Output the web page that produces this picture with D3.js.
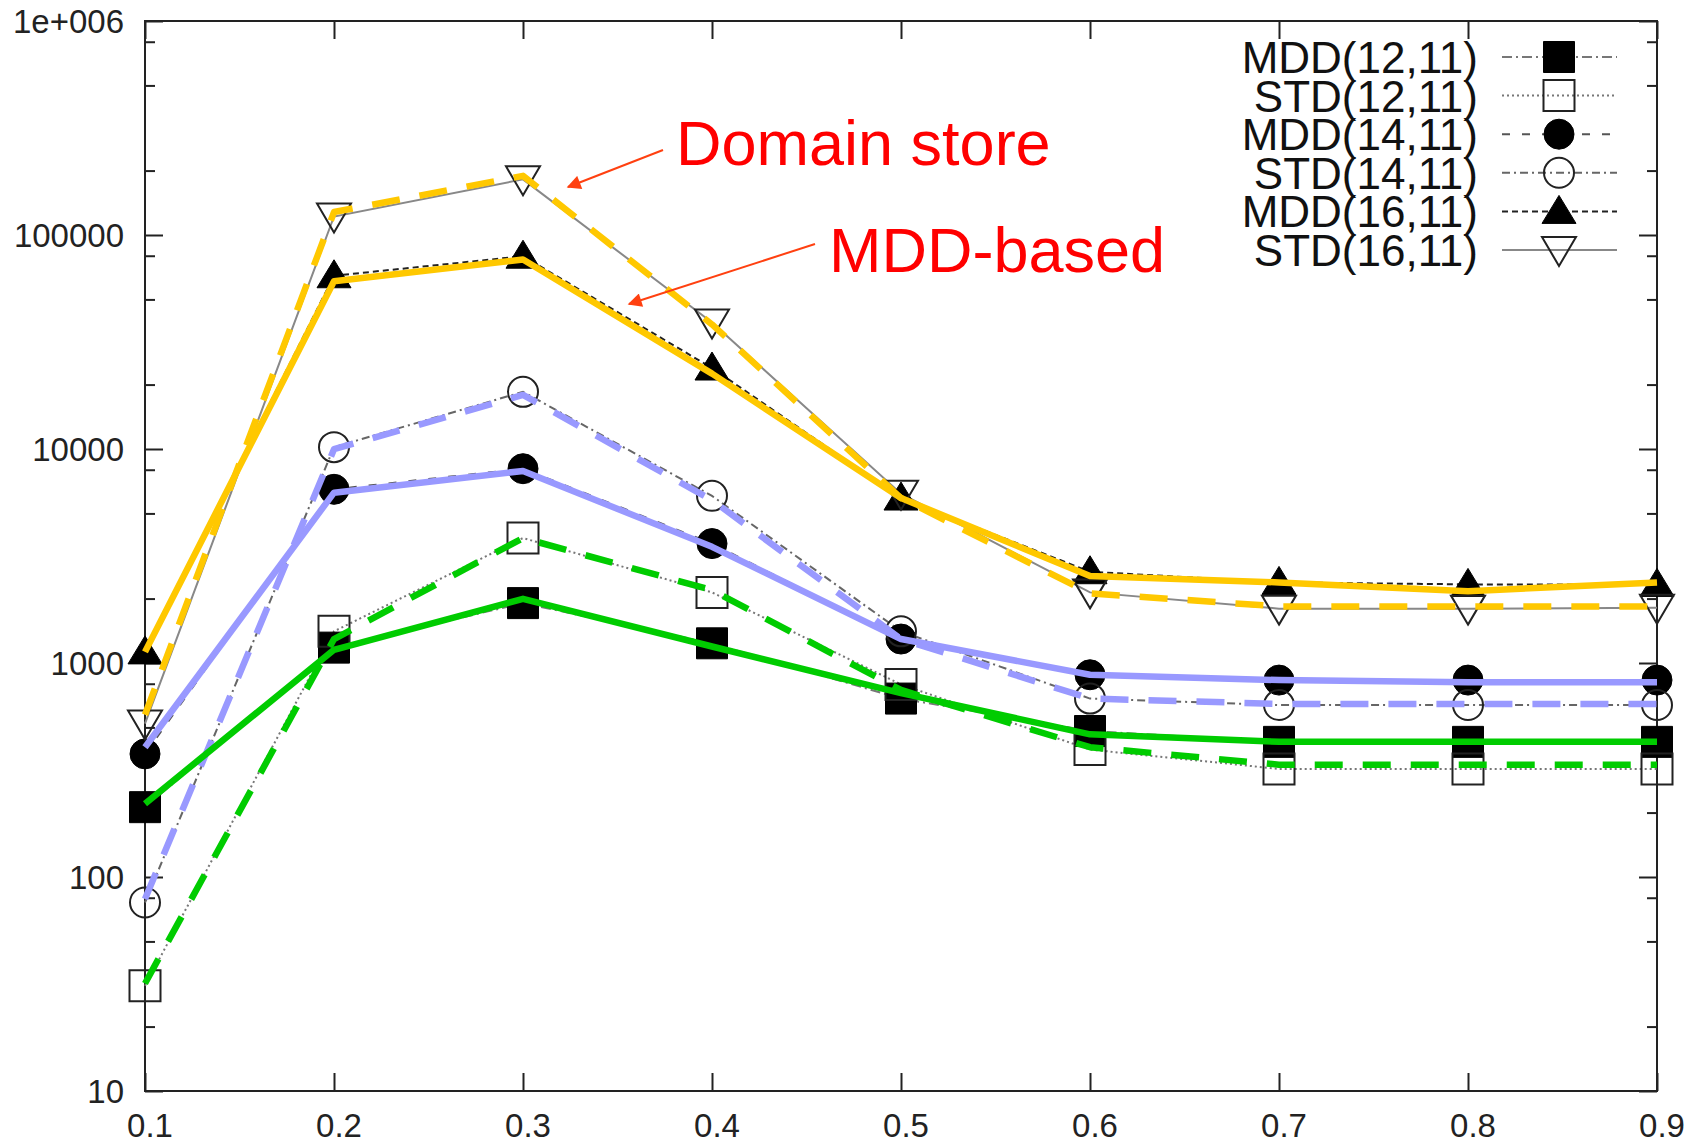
<!DOCTYPE html>
<html>
<head>
<meta charset="utf-8">
<script src="https://cdn.jsdelivr.net/npm/d3@7"></script>
<style>
  body { margin: 0; background: #fff; }
  svg { display: block; font-family: "Liberation Sans", Arial, sans-serif; }
</style>
</head>
<body>
<div id="graph"></div>
<script>
let width = 1698;
let height = 1143;

// x categories
let thresholds = [0.1, 0.2, 0.3, 0.4, 0.5, 0.6, 0.7, 0.8, 0.9];
let xTickLabels = ['0.1', '0.2', '0.3', '0.4', '0.5', '0.6', '0.7', '0.8', '0.9'];
let yTickValues = [10, 100, 1000, 10000, 100000, 1000000];
let yTickLabels = ['10', '100', '1000', '10000', '100000', '1e+006'];

// series with markers
let mdd12 = [212, 1180, 1905, 1236, 682, 481, 428, 428, 428];
let std12 = [31, 1406, 3837, 2138, 794, 394, 320, 320, 320];
let mdd14 = [376, 6480, 8090, 3614, 1294, 881, 832, 832, 832];
let std14 = [76, 10200, 18500, 6040, 1406, 682, 636, 636, 636];
let mdd16 = [1127, 64500, 79600, 23900, 5900, 2670, 2380, 2330, 2330];
let std16 = [521, 122000, 182000, 39000, 6180, 2138, 1795, 1795, 1810];

// hand drawn colour highlight lines
let hiMdd16 = [1127, 60800, 76800, 22500, 5900, 2550, 2380, 2165, 2380];
let hiStd16 = [573, 128000, 189000, 38200, 5900, 2115, 1838, 1838, 1838];
let hiMdd14 = [404, 6250, 7900, 3490, 1294, 881, 832, 812, 812];
let hiStd14 = [79, 9980, 17900, 5770, 1294, 682, 644, 644, 644];
let hiMdd12 = [220, 1153, 1995, 1194, 723, 464, 428, 428, 428];
let hiStd12 = [31.8, 1294, 3837, 2190, 748, 404, 335, 335, 335];

let seriesNames = ['MDD(12,11)', 'STD(12,11)', 'MDD(14,11)', 'STD(14,11)', 'MDD(16,11)', 'STD(16,11)'];

let plotLeft = 145, plotRight = 1657, plotTop = 21, plotBottom = 1091;

let x = d3.scaleLinear().domain([0.1, 0.9]).range([plotLeft, plotRight]);
let y = d3.scaleLog().domain([10, 1e6]).range([plotBottom, plotTop]);

let svg = d3.select('#graph')
    .append('svg')
        .attr('width', width)
        .attr('height', height);

// minor ticks at 2, 5, 8 within each decade
let minorTicks = [];
for (let d = 10; d < 1e6; d *= 10) {
    [2, 5, 8].forEach(m => minorTicks.push(d * m));
}

let axisColor = '#222';

// left and right y ticks
svg.append('g')
    .attr('transform', 'translate(' + plotLeft + ',0)')
    .call(d3.axisRight(y).tickValues(yTickValues).tickSize(18).tickFormat(''))
    .call(g => g.select('.domain').remove());
svg.append('g')
    .attr('transform', 'translate(' + plotLeft + ',0)')
    .call(d3.axisRight(y).tickValues(minorTicks).tickSize(10).tickFormat(''))
    .call(g => g.select('.domain').remove());
svg.append('g')
    .attr('transform', 'translate(' + plotRight + ',0)')
    .call(d3.axisLeft(y).tickValues(yTickValues).tickSize(18).tickFormat(''))
    .call(g => g.select('.domain').remove());
svg.append('g')
    .attr('transform', 'translate(' + plotRight + ',0)')
    .call(d3.axisLeft(y).tickValues(minorTicks).tickSize(10).tickFormat(''))
    .call(g => g.select('.domain').remove());

// bottom and top x ticks
svg.append('g')
    .attr('transform', 'translate(0,' + plotBottom + ')')
    .call(d3.axisTop(x).tickValues(thresholds).tickSize(18).tickFormat(''))
    .call(g => g.select('.domain').remove());
svg.append('g')
    .attr('transform', 'translate(0,' + plotTop + ')')
    .call(d3.axisBottom(x).tickValues(thresholds).tickSize(18).tickFormat(''))
    .call(g => g.select('.domain').remove());

svg.selectAll('.tick line').attr('stroke', axisColor).attr('stroke-width', 2);

// frame
svg.append('rect')
    .attr('x', plotLeft).attr('y', plotTop)
    .attr('width', plotRight - plotLeft).attr('height', plotBottom - plotTop)
    .attr('fill', 'none').attr('stroke', axisColor).attr('stroke-width', 2);

// tick labels
svg.append('g').selectAll('text')
    .data(yTickValues)
    .enter().append('text')
        .attr('x', 124)
        .attr('y', d => y(d))
        .attr('dy', '0.36em')
        .attr('text-anchor', 'end')
        .attr('font-size', 33)
        .attr('fill', '#222')
        .text((d, i) => yTickLabels[i]);

svg.append('g').selectAll('text')
    .data(thresholds)
    .enter().append('text')
        .attr('x', d => x(d) + 5)
        .attr('y', 1137)
        .attr('text-anchor', 'middle')
        .attr('font-size', 33)
        .attr('fill', '#222')
        .text((d, i) => xTickLabels[i]);

// black series
let styles = [
    { data: mdd12, color: '#777', dash: '10,4,2,4', marker: 'square', filled: true },
    { data: std12, color: '#777', dash: '2,3', marker: 'square', filled: false },
    { data: mdd14, color: '#555', dash: '8,12', marker: 'circle', filled: true },
    { data: std14, color: '#666', dash: '8,4,2,4', marker: 'circle', filled: false },
    { data: mdd16, color: '#222', dash: '6,4', marker: 'triUp', filled: true },
    { data: std16, color: '#888', dash: null, marker: 'triDown', filled: false }
];

let line = d3.line()
    .x((d, i) => x(thresholds[i]))
    .y(d => y(d));

function markerPath(type) {
    if (type === 'square') return d3.symbol().type(d3.symbolSquare).size(31 * 31)();
    if (type === 'circle') return d3.symbol().type(d3.symbolCircle).size(Math.PI * 15 * 15)();
    if (type === 'triUp') return 'M0,-16L17,12L-17,12Z';
    return 'M0,16L17,-13L-17,-13Z';
}

function drawMarker(g, s, cx, cy) {
    g.append('path')
        .attr('d', markerPath(s.marker))
        .attr('transform', 'translate(' + cx + ',' + cy + ')')
        .attr('fill', s.filled ? '#000' : 'none')
        .attr('stroke', s.filled ? '#000' : '#222')
        .attr('stroke-width', s.filled ? 1 : 2);
}

styles.forEach(s => {
    svg.append('path')
        .datum(s.data)
        .attr('d', line)
        .attr('fill', 'none')
        .attr('stroke', s.color)
        .attr('stroke-width', 2)
        .attr('stroke-dasharray', s.dash);
});

styles.forEach(s => {
    let g = svg.append('g');
    s.data.forEach((d, i) => drawMarker(g, s, x(thresholds[i]), y(d)));
});

// colour highlight lines
let highlights = [
    { data: hiMdd16, color: '#ffc800', dash: null },
    { data: hiStd16, color: '#ffc800', dash: '28,20' },
    { data: hiMdd14, color: '#9999ff', dash: null },
    { data: hiStd14, color: '#9999ff', dash: '28,20' },
    { data: hiMdd12, color: '#00cc00', dash: null },
    { data: hiStd12, color: '#00cc00', dash: '28,20' }
];

highlights.forEach(h => {
    svg.append('path')
        .datum(h.data)
        .attr('d', line)
        .attr('fill', 'none')
        .attr('stroke', h.color)
        .attr('stroke-width', 6.5)
        .attr('stroke-linejoin', 'round')
        .attr('stroke-dasharray', h.dash);
});

// legend
let legend = svg.append('g');
seriesNames.forEach((name, i) => {
    let cy = 57 + i * 38.6;
    let s = styles[i];
    legend.append('text')
        .attr('x', 1478)
        .attr('y', cy + 16)
        .attr('text-anchor', 'end')
        .attr('font-size', 44)
        .attr('fill', '#111')
        .text(name);
    legend.append('line')
        .attr('x1', 1502).attr('x2', 1617)
        .attr('y1', cy).attr('y2', cy)
        .attr('stroke', s.color)
        .attr('stroke-width', 2)
        .attr('stroke-dasharray', s.dash);
    drawMarker(legend, s, 1559, cy);
});

// annotations
let red = '#ff0000';
let arrowColor = '#ff4010';
svg.append('defs').append('marker')
    .attr('id', 'head')
    .attr('viewBox', '0 0 10 10')
    .attr('refX', 9).attr('refY', 5)
    .attr('markerWidth', 8).attr('markerHeight', 7)
    .attr('markerUnits', 'strokeWidth')
    .attr('orient', 'auto')
    .append('path')
        .attr('d', 'M0,0L10,5L0,10Z')
        .attr('fill', arrowColor);

svg.append('text')
    .attr('x', 676).attr('y', 165)
    .attr('font-size', 63)
    .attr('fill', red)
    .text('Domain store');
svg.append('text')
    .attr('x', 829).attr('y', 272)
    .attr('font-size', 63)
    .attr('fill', red)
    .text('MDD-based');

svg.append('line')
    .attr('x1', 663).attr('y1', 150)
    .attr('x2', 568).attr('y2', 187)
    .attr('stroke', arrowColor).attr('stroke-width', 2)
    .attr('marker-end', 'url(#head)');
svg.append('line')
    .attr('x1', 815).attr('y1', 244)
    .attr('x2', 629).attr('y2', 304)
    .attr('stroke', arrowColor).attr('stroke-width', 2)
    .attr('marker-end', 'url(#head)');
</script>
</body>
</html>
